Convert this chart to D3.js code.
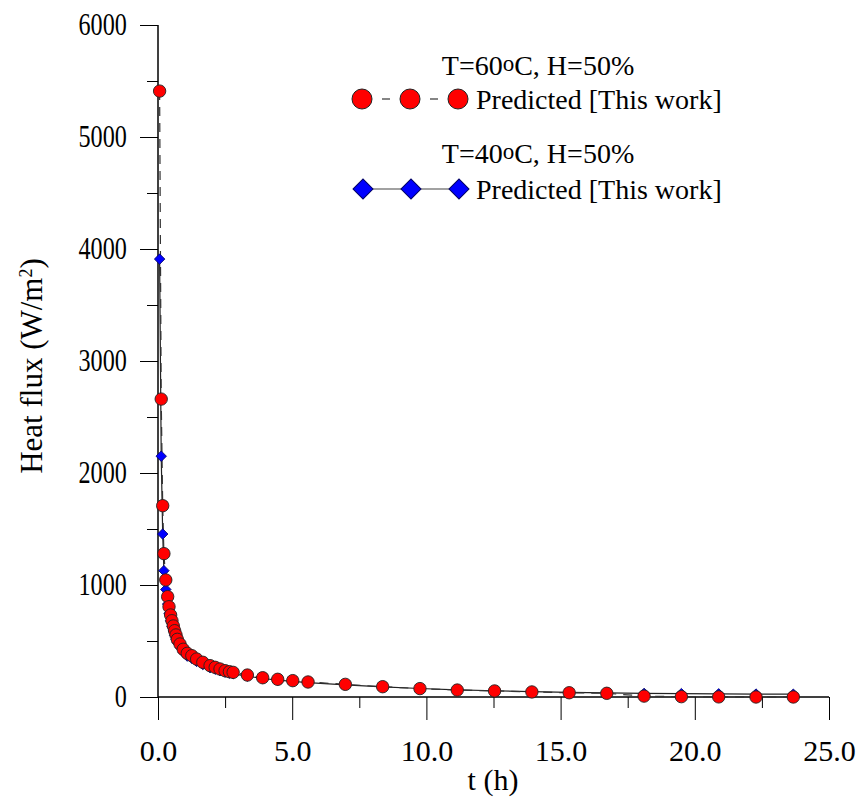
<!DOCTYPE html>
<html>
<head>
<meta charset="utf-8">
<script src="https://cdn.jsdelivr.net/npm/d3@7"></script>
<style>
  body { margin: 0; background: #fff; }
  text { font-family: "Liberation Serif", "Times New Roman", serif; fill: #000; }
</style>
</head>
<body>
<div id="chart"></div>
<script>
// time (h), shared by both series
var tHours = [0.06, 0.12, 0.175, 0.22, 0.29, 0.36, 0.41, 0.47, 0.52, 0.57, 0.62, 0.67, 0.72,
  0.82, 0.94, 1.09, 1.26, 1.44, 1.67, 1.94, 2.13, 2.31, 2.5, 2.66, 2.8,
  3.33, 3.9, 4.46, 5.02, 5.59, 6.98, 8.37, 9.76, 11.15, 12.54, 13.93, 15.32,
  16.72, 18.11, 19.5, 20.89, 22.28, 23.67];
// T=60oC, H=50%
var flux60 = [5410, 2660, 1708, 1280, 1045, 896, 806, 732, 681, 634, 592, 554, 515,
  473, 426, 390, 369, 339, 310, 280, 265, 250, 235, 226, 220,
  196, 172, 158, 146, 134, 113, 92, 75, 62, 54, 45, 38,
  33, 8, 3, 1, 0, 0];
// T=40oC, H=50%
var flux40 = [3910, 2150, 1455, 1128, 960, 830, 745, 680, 630, 590, 550, 515, 485,
  445, 400, 365, 345, 318, 290, 262, 248, 235, 222, 213, 207,
  186, 165, 150, 140, 128, 108, 90, 76, 64, 56, 48, 42,
  37, 32, 30, 28, 26, 25];

var xTicks = [0, 5, 10, 15, 20, 25];
var xMinor = [2.5, 7.5, 12.5, 17.5, 22.5];
var yTicks = [0, 1000, 2000, 3000, 4000, 5000, 6000];
var yMinor = [500, 1500, 2500, 3500, 4500, 5500];

var W = 859, H = 799;
var svg = d3.select("#chart").append("svg").attr("width", W).attr("height", H);

var x = d3.scaleLinear().domain([0, 25]).range([158, 829]);
var y = d3.scaleLinear().domain([0, 6000]).range([697, 25]);

// axes
var gx = svg.append("g").attr("transform", "translate(0,697)");
gx.call(d3.axisBottom(x).tickValues(xTicks).tickSize(23).tickPadding(20).tickFormat(d3.format(".1f")));
gx.append("g").call(d3.axisBottom(x).tickValues(xMinor).tickSize(11).tickFormat(""));
gx.selectAll(".domain").attr("d", "M158,0H829").attr("stroke", "#000");
gx.selectAll("text").style("font-size", "30px").attr("font-family", null);

var gy = svg.append("g").attr("transform", "translate(158,0)");
gy.call(d3.axisLeft(y).tickValues(yTicks).tickSize(18).tickPadding(12).tickFormat(d3.format("d")));
gy.append("g").call(d3.axisLeft(y).tickValues(yMinor).tickSize(11).tickFormat(""));
gy.selectAll(".domain").attr("d", "M0,25V697").attr("stroke", "#000");
// y labels are tall and narrow in the original
gy.selectAll("text").style("font-size", "31px").attr("font-family", null)
  .attr("x", -40).attr("transform", "scale(0.78,1)");
svg.selectAll(".tick line").attr("stroke", "#000");

// axis titles
svg.append("text").attr("x", 493).attr("y", 790).attr("text-anchor", "middle")
  .style("font-size", "30px").text("t (h)");
var yt = svg.append("text").attr("transform", "translate(42,366) rotate(-90)")
  .attr("text-anchor", "middle").style("font-size", "31px");
yt.append("tspan").text("Heat flux (W/m");
yt.append("tspan").attr("dy", -10).style("font-size", "18px").text("2");
yt.append("tspan").attr("dy", 10).text(")");

var pts60 = tHours.map(function (t, i) { return [t, flux60[i]]; });
var pts40 = tHours.map(function (t, i) { return [t, flux40[i]]; });
var line = d3.line().x(function (d) { return x(d[0]); }).y(function (d) { return y(d[1]); });

svg.append("path").datum(pts40).attr("d", line).attr("fill", "none")
  .attr("stroke", "#222").attr("stroke-width", 1.2);
svg.append("path").datum(pts60).attr("d", line).attr("fill", "none")
  .attr("stroke", "#333").attr("stroke-width", 1.2).attr("stroke-dasharray", "9,7");

var diamond = d3.symbol().type(d3.symbolSquare).size(55);
svg.append("g").selectAll("path").data(pts40).join("path")
  .attr("d", diamond)
  .attr("transform", function (d) { return "translate(" + x(d[0]) + "," + y(d[1]) + ") rotate(45)"; })
  .attr("fill", "#0000ff").attr("stroke", "#000066").attr("stroke-width", 0.8);

svg.append("g").selectAll("circle").data(pts60).join("circle")
  .attr("cx", function (d) { return x(d[0]); })
  .attr("cy", function (d) { return y(d[1]); })
  .attr("r", 6.2)
  .attr("fill", "#ff0000").attr("stroke", "#222").attr("stroke-width", 0.9);

// legend
function header(yy, temp) {
  var t = svg.append("text").attr("x", 538).attr("y", yy).attr("text-anchor", "middle")
    .style("font-size", "28px");
  t.append("tspan").text("T=" + temp);
  t.append("tspan").attr("dy", -4).style("font-size", "23px").text("o");
  t.append("tspan").attr("dy", 4).text("C, H=50%");
}
var lx = [362, 410, 458];
header(75, "60");
svg.append("line").attr("x1", 382).attr("x2", 390).attr("y1", 99).attr("y2", 99).attr("stroke", "#333").attr("stroke-width", 1.2);
svg.append("line").attr("x1", 430).attr("x2", 438).attr("y1", 99).attr("y2", 99).attr("stroke", "#333").attr("stroke-width", 1.2);
svg.append("g").selectAll("circle").data(lx).join("circle")
  .attr("cx", function (d) { return d; }).attr("cy", 99).attr("r", 10)
  .attr("fill", "#ff0000").attr("stroke", "#222").attr("stroke-width", 1);
svg.append("text").attr("x", 476).attr("y", 109).style("font-size", "28px").text("Predicted [This work]");

header(163, "40");
svg.append("line").attr("x1", 363).attr("x2", 459).attr("y1", 189).attr("y2", 189).attr("stroke", "#444").attr("stroke-width", 1.2);
svg.append("g").selectAll("path").data(lx).join("path")
  .attr("d", d3.symbol().type(d3.symbolSquare).size(200))
  .attr("transform", function (d) { return "translate(" + (d + 1) + ",189) rotate(45)"; })
  .attr("fill", "#0000ff").attr("stroke", "#000066").attr("stroke-width", 1);
svg.append("text").attr("x", 476).attr("y", 199).style("font-size", "28px").text("Predicted [This work]");
</script>
</body>
</html>
